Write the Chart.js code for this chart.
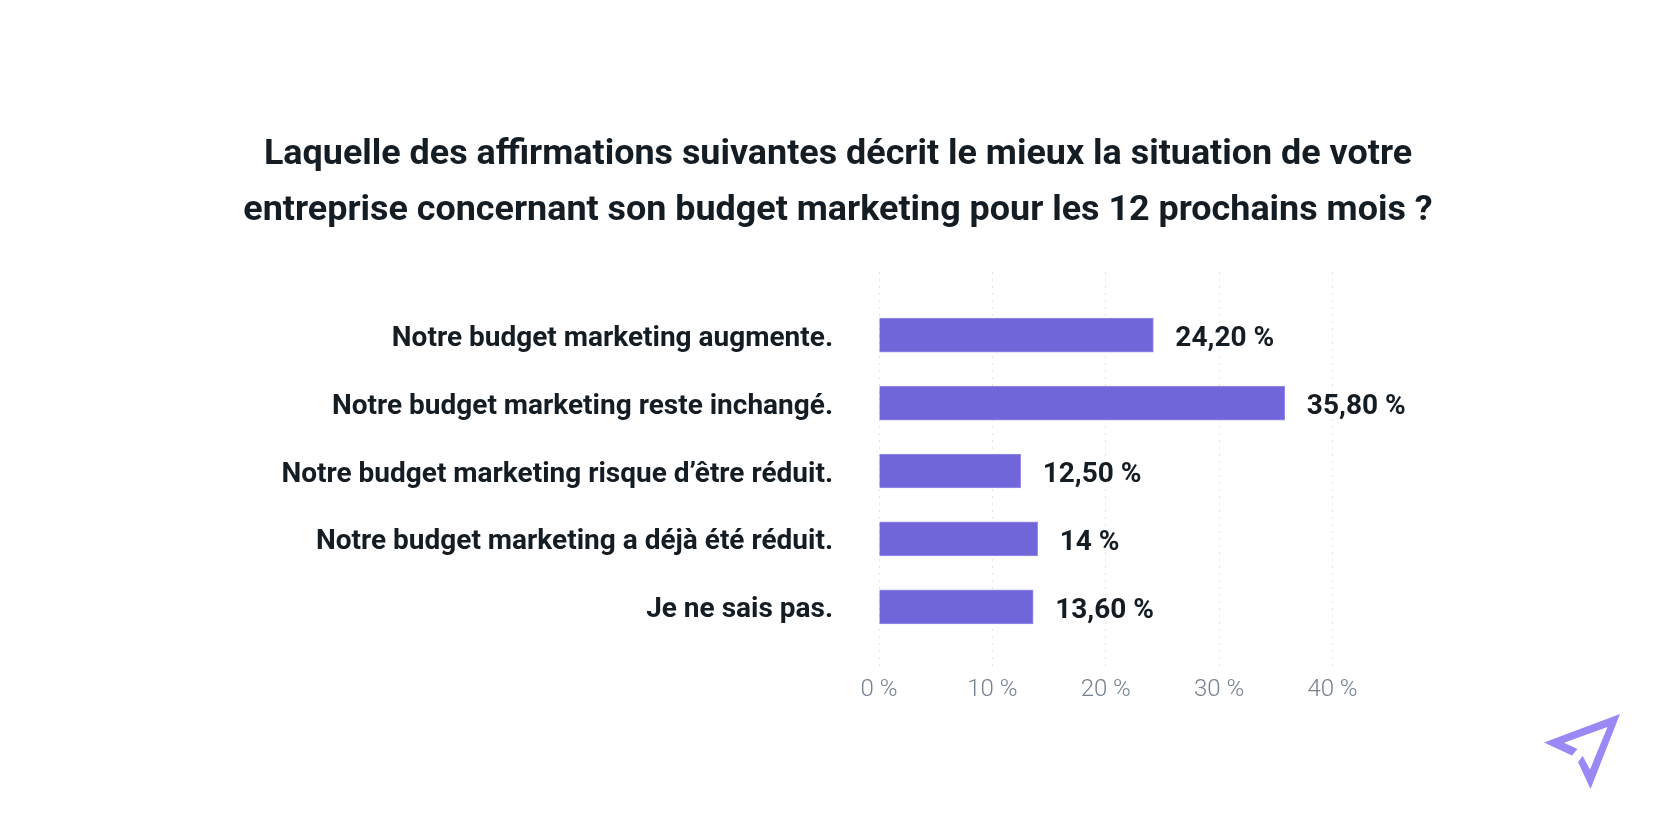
<!DOCTYPE html>
<html lang="fr">
<head>
<meta charset="utf-8">
<title>Budget marketing</title>
<script src="https://cdn.jsdelivr.net/npm/chart.js@4/dist/chart.umd.min.js"></script>
<style>
    html, body { margin: 0; padding: 0; background: #fff; overflow: hidden; }
    #wrap { position: relative; width: 1676px; height: 840px; }
    #logo { position: absolute; left: 0; top: 0; }
</style>
</head>
<body>
<div id="wrap">
    <canvas id="budgetChart" width="1676" height="840"></canvas>
    <svg id="logo" width="1676" height="840" viewBox="0 0 1676 840">
        <path fill="#9b88f5" d="M1620 714 L1544 742.5 L1572 755.5 L1577.5 749 L1564 742.7 L1607.5 727 L1590 769.5 L1582.7 756 L1578 762 L1590.5 789 Z"/>
    </svg>
</div>
<script>
// Chart data
const categories = [
    'Notre budget marketing augmente.',
    'Notre budget marketing reste inchangé.',
    'Notre budget marketing risque d’être réduit.',
    'Notre budget marketing a déjà été réduit.',
    'Je ne sais pas.'
];
const percentages = [24.2, 35.8, 12.5, 14, 13.6];
const valueLabels = ['24,20 %', '35,80 %', '12,50 %', '14 %', '13,60 %'];
const xTicks = [0, 10, 20, 30, 40];
const titleLines = [
    'Laquelle des affirmations suivantes décrit le mieux la situation de votre',
    'entreprise concernant son budget marketing pour les 12 prochains mois ?'
];

// Writes the value next to the end of each bar
const valueLabelPlugin = {
    id: 'valueLabels',
    afterDatasetsDraw(chart) {
        const ctx = chart.ctx;
        ctx.save();
        ctx.font = '700 28px Roboto';
        ctx.fillStyle = '#141c24';
        ctx.textAlign = 'left';
        ctx.textBaseline = 'middle';
        chart.getDatasetMeta(0).data.forEach((bar, i) => {
            ctx.fillText(valueLabels[i], bar.x + 22, bar.y + 4);
        });
        ctx.restore();
    }
};

const ctx = document.getElementById('budgetChart').getContext('2d');

new Chart(ctx, {
    type: 'bar',
    data: {
        datasets: [{
            data: percentages.map((value, i) => ({ x: value, y: i })),
            backgroundColor: '#7066d9',
            borderColor: '#9a90ee',
            borderWidth: 1,
            barThickness: 34
        }]
    },
    options: {
        indexAxis: 'y',
        responsive: false,
        animation: false,
        plugins: {
            legend: { display: false },
            tooltip: { enabled: false },
            title: {
                display: true,
                text: titleLines,
                color: '#141c24',
                font: { family: 'Roboto', size: 35.9, weight: '700', lineHeight: 1.56 },
                padding: { top: 127, bottom: 33 }
            }
        },
        scales: {
            x: {
                type: 'linear',
                min: 0,
                max: 70.3, // axis runs on to the canvas edge, ticks stop at 40
                afterBuildTicks: scale => { scale.ticks = xTicks.map(value => ({ value })); },
                afterFit: scale => { scale.height = 170; },
                border: { display: false, dash: [2, 5] },
                grid: {
                    color: '#dfe2e6',
                    lineWidth: 1,
                    drawTicks: false
                },
                ticks: {
                    padding: 6,
                    color: '#75828f',
                    font: { family: 'Roboto', size: 24, weight: '300' },
                    callback: value => value + ' %'
                }
            },
            y: {
                type: 'linear',
                reverse: true,
                offset: false,
                min: -0.93,
                max: 4.93,
                afterBuildTicks: scale => { scale.ticks = categories.map((_, i) => ({ value: i })); },
                afterFit: scale => { scale.width = 879; },
                border: { display: false },
                grid: { display: false, drawTicks: false },
                ticks: {
                    padding: 46,
                    labelOffset: 3.5,
                    color: '#141c24',
                    font: { family: 'Roboto', size: 28, weight: '700' },
                    callback: value => categories[value]
                }
            }
        }
    },
    plugins: [valueLabelPlugin]
});
</script>
</body>
</html>
